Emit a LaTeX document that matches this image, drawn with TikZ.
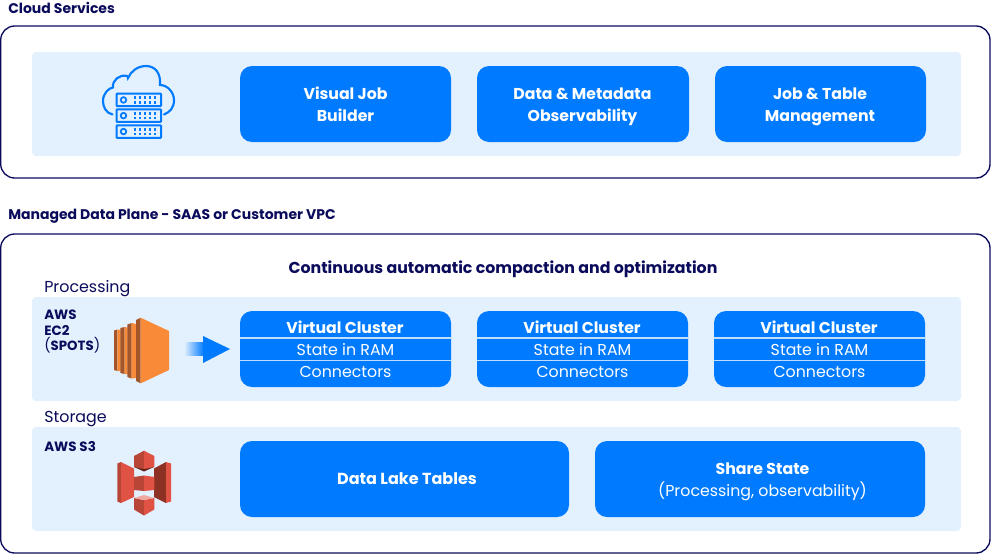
\documentclass[tikz,border=0pt]{standalone}
\usepackage{fontspec}
\setmainfont{Poppins}
\usetikzlibrary{shadings}
\definecolor{navy}{HTML}{0B0B5C}
\definecolor{blu}{HTML}{007BFF}
\definecolor{pale}{HTML}{E3F0FE}
\definecolor{ora}{HTML}{F98A37}
\definecolor{orad}{HTML}{A3562A}
\definecolor{redl}{HTML}{E05243}
\definecolor{redm}{HTML}{B84636}
\definecolor{redd}{HTML}{8C3123}
\tikzset{x=0.75pt,y=-0.75pt,
 outer/.style={draw=navy,line width=1pt,rounded corners=10.5pt,fill=white},
 band/.style={fill=pale,rounded corners=3pt},
 bluebox/.style={fill=blu,rounded corners=9pt,minimum height=57pt},
 title/.style={text=navy,font=\fontsize{10.5pt}{12pt}\selectfont\fontseries{sb}\selectfont,anchor=west,inner sep=0pt},
 plain/.style={text=navy,font=\fontsize{11.9pt}{13pt}\selectfont,anchor=west,inner sep=0pt},
 small/.style={text=navy,font=\fontsize{10.1pt}{11.8pt}\selectfont\fontseries{sb}\selectfont,anchor=north west,inner sep=0pt,align=left},
 wbold/.style={text=white,font=\fontsize{11.8pt}{16.5pt}\selectfont\fontseries{sb}\selectfont,align=center,inner sep=0pt},
 wreg/.style={text=white,font=\fontsize{11.85pt}{16.5pt}\selectfont,align=center,inner sep=0pt},
 ruleline/.style={draw=white!75!blu,line width=0.9pt},
 ico/.style={draw=blu,line width=1.6pt,fill=none},
}
\newcommand{\rackunit}[1]{%
 \draw[draw=blu,line width=1.5pt,fill=pale,rounded corners=0.5pt] (116.5,#1) rectangle (161,#1+12.5);
 \draw[blu,line width=1.3pt] (123.5,#1+6.25) circle (2.8);
 \foreach \xx in {135,140,145,150,155}{
   \fill[blu] (\xx-1.3,#1+2.6) rectangle (\xx+1.3,#1+5.2);
   \fill[blu] (\xx-1.3,#1+7.3) rectangle (\xx+1.3,#1+9.9);
 }}
\newcommand{\vcluster}[2]{%
 \node[bluebox,minimum width=158.25pt] (#2) at (#1+105.5,349) {};
 \draw[ruleline] (#2.west |- 0,338) -- (#2.east |- 0,338);
 \draw[ruleline] (#2.west |- 0,360.5) -- (#2.east |- 0,360.5);
 \node[wbold] (#2a) at (#1+105,327.5) {Virtual Cluster};
 \node[wreg] (#2b) at (#1+105.5,349.5) {State in RAM};
 \node[wreg] (#2c) at (#1+105.5,372) {Connectors};
}
\begin{document}
\begin{tikzpicture}
\useasboundingbox (0,0) rectangle (991,554);
\node[title] (t1) at (8,8) {Cloud Services};
\fill[outer] (0.7,26) rectangle (990,178);
\fill[band] (32,52) rectangle (961,156);
% cloud icon
\draw[ico,line cap=round] (112.5,114.5) .. controls (106,113) and (103,107) .. (103,101)
  .. controls (103,93) and (109,88) .. (113,87.5)
  .. controls (112,80) and (120,74) .. (127,76) .. controls (129,77) and (127,78) .. (128,78)
  .. controls (131,71) and (138,66) .. (146,66) .. controls (155,66) and (161,73) .. (160,85)
  .. controls (168,85) and (174,93) .. (174,100) .. controls (174,108) and (170,112) .. (164,114.5);
\rackunit{93.7}\rackunit{109.4}\rackunit{125.3}
\node[bluebox,minimum width=158.25pt] (b1) at (345.5,104) {};
\node[bluebox,minimum width=159pt] (b2) at (583,104) {};
\node[bluebox,minimum width=158.25pt] (b3) at (820.5,104) {};
\node[wbold] (b1t) at (345.5,106) {Visual Job\\Builder\vphantom{y}};
\node[wbold] (b2t) at (582.5,107) {Data \& Metadata\\Observability};
\node[wbold] (b3t) at (820,107) {Job \& Table\\Management};
\node[title] (t2) at (8,216.5) {Managed Data Plane - SAAS or Customer VPC};
\fill[outer] (0.7,234) rectangle (990,553);
\node[text=navy,font=\fontsize{11.85pt}{14pt}\selectfont\fontseries{sb}\selectfont,inner sep=0pt] (t3) at (503,269) {Continuous automatic compaction and optimization};
\node[plain] (t4) at (44,288.5) {Processing};
\fill[band] (32,297) rectangle (961,401);
\node[small] (t5) at (44,309.5) {AWS\\EC2\\{\fontsize{10.6pt}{11.8pt}\fontseries{m}\selectfont(}{\fontsize{10pt}{11.8pt}\selectfont SPOTS}{\fontsize{10.6pt}{11.8pt}\fontseries{m}\selectfont)}};
% EC2 icon
\fill[orad] (114,330.5) -- (117.3,329.5) -- (117.3,371) -- (114,370) -- cycle;
\fill[ora] (117.3,329.5) -- (120.5,330) -- (120.5,371) -- (117.3,371) -- cycle;
\fill[orad] (120.3,328) -- (124.7,327) -- (124.7,374) -- (120.3,373) -- cycle;
\fill[ora] (124.7,327) -- (127.5,327.5) -- (127.5,374) -- (124.7,374) -- cycle;
\fill[orad] (127.3,324.5) -- (131.7,323) -- (131.7,378.5) -- (127.3,377) -- cycle;
\fill[ora] (131.7,323) -- (136.2,324) -- (136.2,378) -- (131.7,378.5) -- cycle;
\fill[orad] (136,320) -- (140.7,317.7) -- (140.7,383.3) -- (136,381) -- cycle;
\fill[ora] (140.7,317.7) -- (169,331) -- (169,370) -- (140.7,383.3) -- cycle;
% arrow
\shade[left color=pale,right color=blu,shading angle=90,shading=axis] (184,342) rectangle (204,355);
\fill[blu] (203,336) -- (230,349) -- (203,363) -- cycle;
\vcluster{240}{c1}\vcluster{477}{c2}\vcluster{714}{c3}
\node[plain] (t6) at (44,419) {Storage};
\fill[band] (32,427) rectangle (961,531);
\node[small] (t7) at (44,441.5) {AWS S3};
% S3 icon
\fill[redm] (117.3,463.5) -- (121,462) -- (121,503) -- (117.3,501.5) -- cycle;
\fill[redl] (121,462) -- (134,468.5) -- (134,497) -- (121,503) -- cycle;
\fill[redd] (154,468.5) -- (166,462) -- (166,503) -- (154,497) -- cycle;
\fill[redl] (166,462) -- (171,463.5) -- (171,501.5) -- (166,503) -- cycle;
\fill[redd!70!black] (134,467) -- (154,467) -- (144,471.5) -- cycle;
\fill[redm] (134,456) -- (144,450.7) -- (144,469) -- (134,467) -- cycle;
\fill[redl] (144,450.7) -- (154.3,456) -- (154.3,467) -- (144,469) -- cycle;
\fill[redm] (134,477) -- (144,475.5) -- (144,491) -- (134,490) -- cycle;
\fill[redl] (144,475.5) -- (154.3,477) -- (154.3,490) -- (144,491) -- cycle;
\fill[redm] (134,498) -- (144,500) -- (144,515.5) -- (134,509.5) -- cycle;
\fill[redl] (144,500) -- (154.3,498) -- (154.3,509.5) -- (144,515.5) -- cycle;
\fill[redl!50!white] (134,498) -- (144,495) -- (154.3,498) -- (144,500) -- cycle;
\node[bluebox,minimum width=246.75pt] (d1) at (404.5,479) {};
\node[bluebox,minimum width=247.5pt] (d2) at (760,479) {};
\node[wbold,font=\fontsize{12pt}{16.5pt}\selectfont\fontseries{sb}\selectfont] (d1t) at (407,479) {Data Lake Tables};
\node[wreg] (d2t) at (762.5,482) {{\fontseries{sb}\selectfont Share State}\\(Processing, observability)};
\end{tikzpicture}
\end{document}
